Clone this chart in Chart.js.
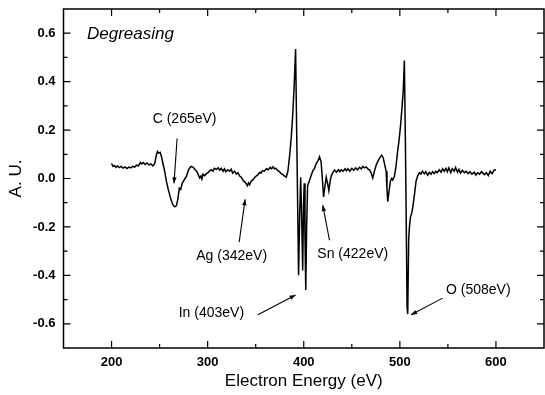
<!DOCTYPE html>
<html><head><meta charset="utf-8">
<script src="https://cdn.jsdelivr.net/npm/chart.js@4.4.0/dist/chart.umd.min.js"></script>
<style>html,body{margin:0;padding:0;background:#fff}#wrap{width:545px;height:395px}</style>
</head><body><div id="wrap"><canvas id="c" width="545" height="395"></canvas></div>
<script>
const energy = [200,201.5,203,204.5,206,208,210,212,214,216,218,220,222,224,226,228,230,231.5,233,235,237,239,241,243,245,246.5,247.8,249,250.5,252,253.6,255.5,257,259,261,263,264.5,266,267.5,269,270.5,272,273.5,275,276.5,278,280,281.5,283,285,287,288.5,290,291.7,293,294,295.2,297,298.7,300.5,302,303.9,305.5,307,309,311,312.5,314,316,317.5,319,321,322.9,324.5,326,328,329.9,331.5,333.3,335,337,338.5,340,341.3,342.5,343.7,345,347,348.9,350.5,352,354.1,355.5,357,359,361,363,365,366.5,367.9,369.5,371,373.1,375,376.5,378.3,380,381.8,383.5,385.2,387,388.5,390,391.5,392.8,393.8,394.6,395.8,396.8,397.8,398.9,399.8,400.5,401.3,402.1,403,404,406,408,409.5,411,413,415,416.4,418,419.2,420.6,421.8,423.4,424.8,426.1,427.5,428.6,430,432,434,436,437.5,439,441,443,444.5,446,448,450,452,454,456,458,460,461.5,463.1,465,466.6,468.5,470.1,471.8,473.5,475.3,477,479,481.1,482.5,484,485.7,486.6,487.4,488.5,490.2,491.5,492.5,494.3,496,497.8,499,500.6,502.3,503.5,504.7,505.8,506.7,507.5,508.2,509.2,510,511,512.5,513.4,515.1,516.9,518.5,520.3,522,523.5,525.5,527,529,530.7,532.5,534,535.9,537.5,539,541,543,544.5,546.3,548,549.5,551,553,554.5,556.7,558,560,561.5,563,565,567.1,569,571,573,575,577.5,579,581,583,585,587.9,590,592,594,596,598,600];
const intensity = [0.062,0.050,0.054,0.046,0.052,0.045,0.050,0.043,0.048,0.041,0.047,0.044,0.050,0.047,0.055,0.052,0.066,0.060,0.066,0.058,0.064,0.056,0.060,0.052,0.062,0.095,0.112,0.105,0.108,0.090,0.060,0.025,-0.010,-0.045,-0.075,-0.100,-0.113,-0.117,-0.112,-0.085,-0.040,-0.045,-0.020,-0.010,0.000,0.010,0.035,0.045,0.050,0.046,0.036,0.030,0.018,0.002,0.010,-0.002,0.018,0.012,0.020,0.024,0.032,0.036,0.030,0.042,0.038,0.044,0.034,0.042,0.030,0.040,0.028,0.036,0.030,0.038,0.022,0.030,0.018,0.024,0.010,0.005,-0.008,-0.014,-0.020,-0.030,-0.018,-0.026,-0.012,-0.006,0.004,0.010,0.014,0.026,0.022,0.032,0.030,0.040,0.036,0.046,0.040,0.048,0.040,0.042,0.032,0.028,0.020,0.016,0.010,0.006,0.030,0.090,0.170,0.260,0.380,0.535,0.150,-0.150,-0.400,-0.150,0.005,-0.150,-0.380,-0.100,-0.020,-0.250,-0.460,-0.200,-0.030,-0.008,0.015,0.033,0.040,0.062,0.075,0.090,0.070,0.010,-0.076,-0.040,0.005,-0.020,-0.050,-0.010,0.010,0.022,0.035,0.026,0.036,0.028,0.036,0.030,0.040,0.032,0.040,0.030,0.042,0.034,0.044,0.036,0.046,0.040,0.050,0.044,0.048,0.040,0.036,0.024,0.002,0.030,0.055,0.070,0.085,0.096,0.088,0.062,0.030,-0.040,-0.096,-0.060,-0.010,0.000,-0.006,0.008,0.050,0.117,0.150,0.213,0.295,0.360,0.487,0.144,-0.200,-0.529,-0.560,-0.250,-0.200,-0.160,-0.140,-0.120,-0.070,-0.010,0.010,0.024,0.018,0.030,0.020,0.028,0.014,0.026,0.018,0.028,0.020,0.030,0.024,0.036,0.026,0.040,0.030,0.042,0.028,0.044,0.024,0.040,0.030,0.046,0.026,0.038,0.022,0.034,0.024,0.030,0.020,0.028,0.018,0.026,0.014,0.024,0.018,0.028,0.016,0.024,0.012,0.030,0.020,0.034,0.036];
const xTickValues = [200,300,400,500,600];
const xMinorValues = [250,350,450,550];
const yTickValues = [-0.6,-0.4,-0.2,0.0,0.2,0.4,0.6];
const yMinorValues = [-0.5,-0.3,-0.1,0.1,0.3,0.5];
const panelLabel = 'Degreasing';
const peakLabels = ['C (265eV)','Ag (342eV)','Sn (422eV)','In (403eV)','O (508eV)'];
const labelAt = [[276,0.244],[325,-0.32],[451,-0.313],[303.9,-0.556],[581.6,-0.46]];
const arrowFrom = [[268.2,0.165],[332.8,-0.263],[426.8,-0.255],[352.3,-0.563],[544.5,-0.494]];
const arrowTo = [[265.0,-0.02],[339.0,-0.086],[419.8,-0.110],[391.5,-0.481],[511.7,-0.563]];

const FONT = '"Liberation Sans", Arial, Helvetica, sans-serif';

const framePlugin = {
  id: 'frame',
  afterDraw(chart) {
    const {ctx, chartArea: a, scales: {x, y}} = chart;
    ctx.save();
    ctx.strokeStyle = '#000';
    ctx.lineWidth = 1.5;
    ctx.strokeRect(a.left, a.top, a.right - a.left, a.bottom - a.top);
    ctx.lineWidth = 1.2;
    ctx.beginPath();
    const tickX = (v, len) => { const p = x.getPixelForValue(v);
      ctx.moveTo(p, a.bottom); ctx.lineTo(p, a.bottom - len);
      ctx.moveTo(p, a.top); ctx.lineTo(p, a.top + len); };
    const tickY = (v, len) => { const p = y.getPixelForValue(v);
      ctx.moveTo(a.left, p); ctx.lineTo(a.left + len, p);
      ctx.moveTo(a.right, p); ctx.lineTo(a.right - len, p); };
    xTickValues.forEach(v => tickX(v, 7));
    xMinorValues.forEach(v => tickX(v, 4));
    yTickValues.forEach(v => tickY(v, 7));
    yMinorValues.forEach(v => tickY(v, 4));
    ctx.stroke();

    ctx.fillStyle = '#000';
    ctx.font = 'italic 17px ' + FONT;
    ctx.textAlign = 'left';
    ctx.textBaseline = 'middle';
    ctx.fillText(panelLabel, x.getPixelForValue(174.4), y.getPixelForValue(0.597));

    ctx.font = '14px ' + FONT;
    ctx.textAlign = 'center';
    peakLabels.forEach((t, i) => {
      ctx.fillText(t, x.getPixelForValue(labelAt[i][0]), y.getPixelForValue(labelAt[i][1]));
      const x1 = x.getPixelForValue(arrowFrom[i][0]), y1 = y.getPixelForValue(arrowFrom[i][1]);
      const x2 = x.getPixelForValue(arrowTo[i][0]), y2 = y.getPixelForValue(arrowTo[i][1]);
      ctx.lineWidth = 1.1;
      ctx.beginPath(); ctx.moveTo(x1, y1); ctx.lineTo(x2, y2); ctx.stroke();
      const ang = Math.atan2(y2 - y1, x2 - x1), L = 6, W = 2.2;
      ctx.beginPath();
      ctx.moveTo(x2, y2);
      ctx.lineTo(x2 - L * Math.cos(ang) + W * Math.sin(ang), y2 - L * Math.sin(ang) - W * Math.cos(ang));
      ctx.lineTo(x2 - L * Math.cos(ang) - W * Math.sin(ang), y2 - L * Math.sin(ang) + W * Math.cos(ang));
      ctx.closePath(); ctx.fill();
    });
    ctx.restore();
  }
};

new Chart(document.getElementById('c'), {
  type: 'scatter',
  data: {
    datasets: [{
      data: energy.map((e, i) => ({x: e, y: intensity[i]})),
      showLine: true,
      borderColor: '#000',
      borderWidth: 1.5,
      pointRadius: 0,
      tension: 0
    }]
  },
  options: {
    responsive: false,
    devicePixelRatio: 1,
    animation: false,
    layout: {padding: {top: 9, right: 1, left: 0, bottom: 0}},
    plugins: {legend: {display: false}, tooltip: {enabled: false}},
    scales: {
      x: {
        type: 'linear', min: 150, max: 650,
        afterBuildTicks: s => { s.ticks = xTickValues.map(v => ({value: v})); },
        afterFit: s => { s.height = 47; s.paddingLeft = 0; s.paddingRight = 0; },
        grid: {display: false, drawTicks: false},
        border: {display: false},
        ticks: {color: '#000', padding: 7, font: {family: FONT, size: 13, weight: 'bold'}, callback: v => String(v)},
        title: {display: true, text: 'Electron Energy (eV)', color: '#000', font: {family: FONT, size: 17}, padding: {top: 0, bottom: 3}}
      },
      y: {
        type: 'linear', min: -0.7, max: 0.7,
        afterBuildTicks: s => { s.ticks = yTickValues.map(v => ({value: v})); },
        afterFit: s => { s.width = 63.5; s.paddingTop = 0; s.paddingBottom = 0; },
        grid: {display: false, drawTicks: false},
        border: {display: false},
        ticks: {color: '#000', padding: 8, font: {family: FONT, size: 13, weight: 'bold'}, callback: v => (Math.abs(v) < 1e-9 ? 0 : v).toFixed(1)},
        title: {display: true, text: 'A. U.', color: '#000', font: {family: FONT, size: 17}, padding: {top: 6, bottom: 0}}
      }
    }
  },
  plugins: [framePlugin]
});
</script>
</body></html>
